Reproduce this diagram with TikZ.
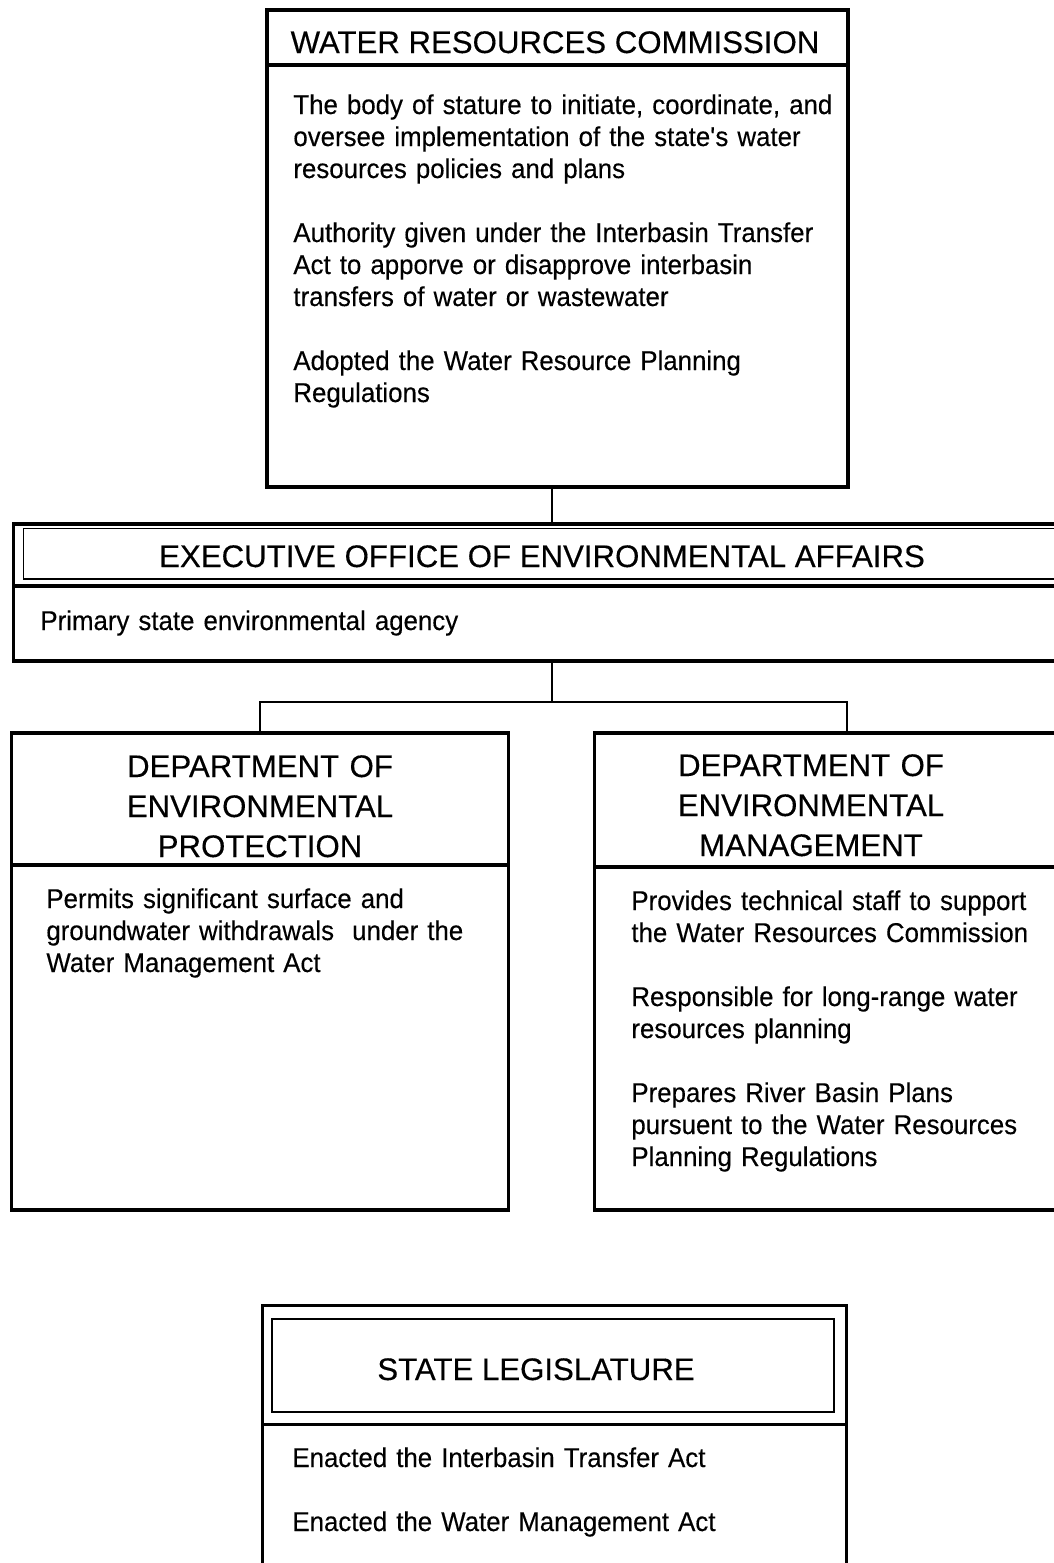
\documentclass[tikz,border=0pt]{standalone}
\usepackage{fontspec}
\setmainfont{Liberation Sans}[FakeBold=0.3]
\newfontfamily\notesface{Liberation Sans}[FakeStretch=0.95, FakeBold=0.3]
\usetikzlibrary{positioning}
\newcommand{\headfont}{\fontsize{15.6pt}{20pt}\selectfont}
\newcommand{\bodyfont}{\notesface\fontsize{13.6pt}{16pt}\selectfont}

\begin{document}
\begin{tikzpicture}
[x=0.5pt, y=-0.5pt,
boxpart/.style={draw, line width=1.75pt, inner sep=0pt, outer sep=0pt},
innerbox/.style={draw, line width=0.75pt, inner sep=0pt, outer sep=0pt, anchor=north west},
heading/.style={font=\headfont, inner sep=0pt, anchor=base},
notes/.style={font=\bodyfont, inner sep=0pt, anchor=base west, text width=290pt, align=left},
link/.style={draw, line width=0.75pt}
]
    \useasboundingbox (0,0) rectangle (1054,1563);
    \clip (0,0) rectangle (1054,1563);

    % commission
    \node[boxpart, anchor=north west, minimum width=290.5pt, minimum height=27.5pt] (wrcHead) at (267,10) {};
    \node[boxpart, minimum width=290.5pt, minimum height=211pt, below right=0pt and 0pt of wrcHead.south west] (wrcBody) {};
    \node[heading] (wrcTitle) at (555,53) {WATER RESOURCES COMMISSION};
    \node[notes] (wrcNotes) at (293,114) {The body of stature to initiate, coordinate, and\\
    oversee implementation of the state\textquotesingle s water\\
    resources policies and plans\\[16pt]
    Authority given under the Interbasin Transfer\\
    Act to apporve or disapprove interbasin\\
    transfers of water or wastewater\\[16pt]
    Adopted the Water Resource Planning\\
    Regulations};

    % executive office
    \node[boxpart, anchor=north west, minimum width=533.25pt, minimum height=31pt] (eoeaHead) at (13.5,524) {};
    \node[innerbox, minimum width=518.5pt, minimum height=25.25pt] (eoeaFrame) at (23.5,528.5) {};
    \node[boxpart, minimum width=533.25pt, minimum height=37.5pt, below right=0pt and 0pt of eoeaHead.south west] (eoeaBody) {};
    \node[heading] (eoeaTitle) at (542,567) {EXECUTIVE OFFICE OF ENVIRONMENTAL AFFAIRS};
    \node[notes] (eoeaNotes) at (40,630) {Primary state environmental agency};

    % departments
    \node[boxpart, anchor=north west, minimum width=248.5pt, minimum height=66pt] (depHead) at (11.5,733) {};
    \node[boxpart, minimum width=248.5pt, minimum height=172.5pt, below right=0pt and 0pt of depHead.south west] (depBody) {};
    \node[heading, text width=240pt, align=center] (depTitle) at (260,777) {DEPARTMENT OF\\ ENVIRONMENTAL\\ PROTECTION};
    \node[notes] (depNotes) at (46,908) {Permits significant surface and\\
    groundwater withdrawals\ \ under the\\
    Water Management Act};

    \node[boxpart, anchor=north west, minimum width=242.75pt, minimum height=67pt] (demHead) at (594.5,733) {};
    \node[boxpart, minimum width=242.75pt, minimum height=171.5pt, below right=0pt and 0pt of demHead.south west] (demBody) {};
    \node[heading, text width=240pt, align=center] (demTitle) at (811,776) {DEPARTMENT OF\\ ENVIRONMENTAL\\ MANAGEMENT};
    \node[notes] (demNotes) at (631,910) {Provides technical staff to support\\
    the Water Resources Commission\\[16pt]
    Responsible for long-range water\\
    resources planning\\[16pt]
    Prepares River Basin Plans\\
    pursuent to the Water Resources\\
    Planning Regulations};

    % legislature
    \node[boxpart, anchor=north west, minimum width=292pt, minimum height=59.5pt] (legHead) at (262.5,1305.5) {};
    \node[innerbox, minimum width=281pt, minimum height=46.5pt] (legFrame) at (272,1319) {};
    \node[boxpart, minimum width=292pt, minimum height=100pt, below right=0pt and 0pt of legHead.south west] (legBody) {};
    \node[heading] (legTitle) at (536,1380) {STATE LEGISLATURE};
    \node[notes] (legNotes) at (292,1467) {Enacted the Interbasin Transfer Act\\[16pt]
    Enacted the Water Management Act};

    % connectors
    \coordinate (fork) at (552,702);
    \draw[link] (wrcBody.south -| fork) -- (eoeaHead.north -| fork);
    \draw[link] (eoeaBody.south -| fork) -- (fork);
    \draw[link] (depHead.north) |- (fork) -| ([xshift=126.25pt]demHead.north west);
\end{tikzpicture}
\end{document}
